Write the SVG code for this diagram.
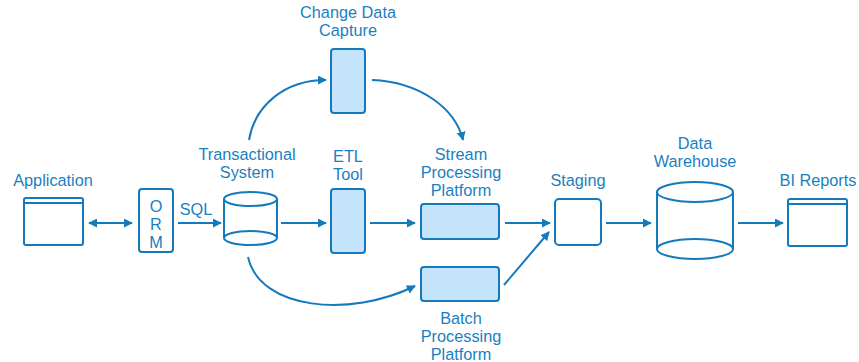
<svg xmlns="http://www.w3.org/2000/svg" width="859" height="362" viewBox="0 0 859 362">
<defs>
<marker id="ah" viewBox="0 0 10 10" refX="9" refY="5" markerWidth="4.5" markerHeight="4.5" orient="auto-start-reverse" markerUnits="strokeWidth">
<path d="M0,0 L10,5 L0,10 z" fill="#1479bd"/>
</marker>
<style>
.s{fill:none;stroke:#1479bd;stroke-width:2}
.b{fill:#c5e4fb;stroke:#1479bd;stroke-width:2}
.w{fill:#fff;stroke:#1479bd;stroke-width:2}
.c{fill:none;stroke:#1479bd;stroke-width:2;marker-end:url(#ah)}
text{font-family:"Liberation Sans",Arial,sans-serif;font-size:16.3px;fill:#1a7fc1;text-anchor:middle}
</style>
</defs>
<rect width="859" height="362" fill="#fff"/>
<g id="connectors">
<line class="c" x1="89" y1="223" x2="132" y2="223" style="marker-start:url(#ah)"/>
<line class="c" x1="178" y1="223" x2="221" y2="223"/>
<line class="c" x1="281" y1="223" x2="326" y2="223"/>
<line class="c" x1="370" y1="223" x2="415" y2="223"/>
<line class="c" x1="505" y1="223" x2="550" y2="223"/>
<line class="c" x1="504" y1="285" x2="549" y2="232"/>
<line class="c" x1="606" y1="223" x2="651" y2="223"/>
<line class="c" x1="738" y1="223" x2="783" y2="223"/>
<path class="c" d="M249,140 C255,105 285,80 326,80"/>
<path class="c" d="M372,80 C420,82 455,108 463,140"/>
<path class="c" d="M248,257 C260,310 350,318 415,286"/>
<text x="196" y="215">SQL</text>
</g>
<g id="application">
<rect class="w" x="24" y="198" width="59" height="47" rx="2"/>
<line class="s" x1="24" y1="203" x2="83" y2="203"/>
<text x="53" y="186">Application</text>
</g>
<g id="orm">
<rect class="w" x="139" y="189" width="34" height="63" rx="3"/>
<text x="156" y="212">O</text>
<text x="156" y="230">R</text>
<text x="156" y="248">M</text>
</g>
<g id="transactional">
<path class="w" d="M224,199 V238 A26.5,7 0 0 0 277,238 V199"/>
<ellipse class="w" cx="250.5" cy="199" rx="26.5" ry="7"/>
<path class="s" d="M224,238 A26.5,7 0 0 1 277,238"/>
<text x="247" y="160">Transactional</text>
<text x="247" y="178">System</text>
</g>
<g id="cdc">
<rect class="b" x="331" y="49" width="34" height="64" rx="3"/>
<text x="348" y="18">Change Data</text>
<text x="348" y="36">Capture</text>
</g>
<g id="etl">
<rect class="b" x="331" y="189" width="34" height="64" rx="3"/>
<text x="348" y="162">ETL</text>
<text x="348" y="180">Tool</text>
</g>
<g id="stream">
<rect class="b" x="421" y="204" width="78" height="35" rx="3"/>
<text x="461" y="160">Stream</text>
<text x="461" y="178">Processing</text>
<text x="461" y="196">Platform</text>
</g>
<g id="batch">
<rect class="b" x="421" y="267" width="78" height="34" rx="3"/>
<text x="461" y="324">Batch</text>
<text x="461" y="342">Processing</text>
<text x="461" y="360">Platform</text>
</g>
<g id="staging">
<rect class="w" x="555" y="199" width="46" height="46" rx="4"/>
<text x="578" y="186">Staging</text>
</g>
<g id="warehouse">
<path class="w" d="M657,192 V249 A38,10 0 0 0 733,249 V192"/>
<ellipse class="w" cx="695" cy="192" rx="38" ry="10"/>
<path class="s" d="M657,249 A38,10 0 0 1 733,249"/>
<text x="695" y="149">Data</text>
<text x="695" y="167">Warehouse</text>
</g>
<g id="bireports">
<rect class="w" x="788" y="199" width="59" height="47" rx="2"/>
<line class="s" x1="788" y1="204" x2="847" y2="204"/>
<text x="818" y="186">BI Reports</text>
</g>
</svg>
